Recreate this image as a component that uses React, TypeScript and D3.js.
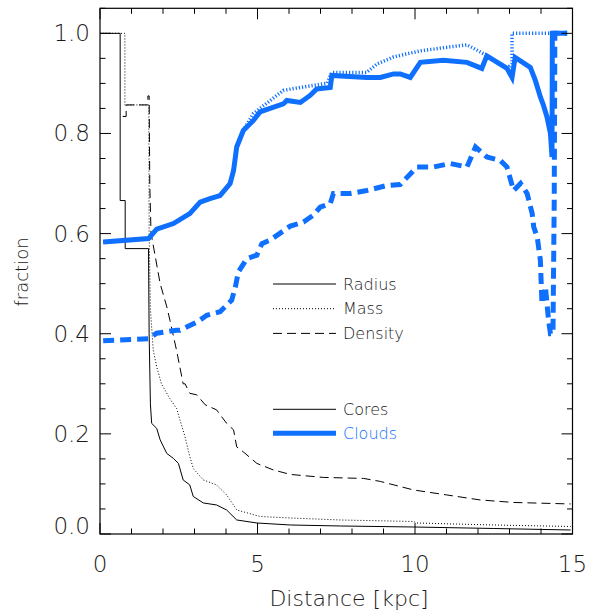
import React from "react";
import * as d3 from "d3";

// Cumulative fractions versus galactocentric distance (kpc)
const coresRadiusX = [0, 0.64, 0.64, 0.8, 0.8, 1.54, 1.56, 1.6, 1.64, 1.8, 1.91, 2.12, 2.33, 2.49, 2.64, 2.85, 2.96, 3.28, 3.7, 4.02, 4.34, 4.98, 6.04, 7.63, 9.94, 12.5, 14.94];
const coresRadiusY = [1.0, 1.0, 0.666, 0.666, 0.57, 0.57, 0.4, 0.26, 0.221, 0.211, 0.188, 0.161, 0.151, 0.141, 0.108, 0.098, 0.075, 0.062, 0.058, 0.048, 0.028, 0.022, 0.018, 0.016, 0.014, 0.011, 0.008];

const coresMassX = [0, 0.79, 0.79, 1.55, 1.56, 1.6, 1.69, 1.8, 1.95, 2.22, 2.43, 2.7, 2.85, 2.96, 3.28, 3.7, 4.02, 4.34, 5.08, 6.04, 7.63, 9.95, 10.05, 12.5, 14.94];
const coresMassY = [1.0, 1.0, 0.857, 0.857, 0.6, 0.45, 0.367, 0.334, 0.3, 0.27, 0.251, 0.194, 0.155, 0.131, 0.108, 0.098, 0.078, 0.048, 0.035, 0.032, 0.028, 0.025, 0.022, 0.018, 0.015];

const coresDensityX = [0.72, 0.83, 0.83, 1.52, 1.52, 1.56, 1.58, 1.62, 1.66, 1.91, 2.12, 2.22, 2.43, 2.64, 2.7, 2.85, 3.07, 3.34, 3.7, 4.02, 4.24, 4.34, 4.55, 4.98, 5.5, 6.04, 7.09, 8.37, 8.9, 9.95, 11.01, 12.07, 13.13, 14.94];
const coresDensityY = [0.834, 0.834, 0.857, 0.857, 0.875, 0.875, 0.7, 0.6, 0.587, 0.5, 0.454, 0.427, 0.367, 0.3, 0.3, 0.281, 0.278, 0.258, 0.248, 0.221, 0.208, 0.174, 0.164, 0.141, 0.128, 0.119, 0.113, 0.111, 0.105, 0.088, 0.078, 0.068, 0.063, 0.06];

const cloudsRadiusX = [0.1, 1.54, 1.8, 2.33, 2.85, 3.18, 3.49, 3.81, 4.13, 4.24, 4.34, 4.55, 4.87, 5.08, 5.4, 5.82, 5.93, 6.36, 6.67, 6.88, 7.31, 7.36, 8.47, 8.9, 9.32, 9.53, 9.85, 10.17, 10.9, 11.65, 12.12, 12.28, 12.92, 13.08, 13.18, 13.66, 13.82, 13.98, 14.08, 14.19, 14.3, 14.35, 14.36, 14.83];
const cloudsRadiusY = [0.583, 0.59, 0.609, 0.62, 0.64, 0.663, 0.67, 0.676, 0.7, 0.726, 0.773, 0.806, 0.826, 0.843, 0.85, 0.859, 0.866, 0.862, 0.876, 0.889, 0.892, 0.916, 0.912, 0.912, 0.919, 0.919, 0.912, 0.942, 0.946, 0.942, 0.93, 0.955, 0.93, 0.912, 0.952, 0.932, 0.906, 0.873, 0.856, 0.833, 0.8, 0.753, 1.0, 1.0];

const cloudsMassX = [0.1, 1.54, 1.8, 2.33, 2.85, 3.18, 3.49, 3.81, 4.13, 4.24, 4.34, 4.55, 4.87, 5.08, 5.82, 6.36, 7.2, 7.36, 8.47, 8.8, 9.32, 10.17, 11.12, 11.65, 12.1, 12.28, 12.92, 13.08, 13.08, 14.83];
const cloudsMassY = [0.583, 0.59, 0.609, 0.62, 0.64, 0.663, 0.67, 0.676, 0.7, 0.726, 0.773, 0.806, 0.84, 0.85, 0.886, 0.892, 0.9, 0.922, 0.922, 0.939, 0.953, 0.965, 0.973, 0.977, 0.962, 0.955, 0.93, 0.939, 1.0, 1.0];

const cloudsDensityX = [0.1, 1.54, 1.8, 2.43, 2.54, 3.1, 3.39, 3.81, 4.18, 4.3, 4.39, 4.66, 4.98, 5.14, 5.4, 5.72, 6.04, 6.46, 6.78, 6.99, 7.31, 7.41, 7.94, 8.47, 9.1, 9.53, 10.06, 10.59, 11.12, 11.65, 11.92, 12.28, 12.71, 12.92, 13.13, 13.35, 13.56, 13.72, 13.77, 13.88, 13.98, 14.03, 14.14, 14.24, 14.3, 14.38, 14.42, 14.44, 14.83];
const cloudsDensityY = [0.386, 0.39, 0.401, 0.407, 0.407, 0.424, 0.437, 0.444, 0.467, 0.494, 0.523, 0.55, 0.557, 0.58, 0.587, 0.601, 0.615, 0.623, 0.637, 0.653, 0.66, 0.68, 0.68, 0.686, 0.696, 0.698, 0.733, 0.733, 0.74, 0.733, 0.773, 0.753, 0.746, 0.733, 0.686, 0.7, 0.68, 0.64, 0.613, 0.593, 0.547, 0.46, 0.494, 0.427, 0.4, 0.4, 0.667, 1.0, 1.0];

const xMajorTicks = [0, 5, 10, 15];
const yMajorTicks = [0, 0.2, 0.4, 0.6, 0.8, 1.0];
const legendLines = ["Radius", "Mass", "Density"];
const legendSets = ["Cores", "Clouds"];

const BLUE = "#0f6fff";
const FONT = "'DejaVu Sans', sans-serif";
const TEXT = "#1a1a1a";

const W = 590;
const H = 614;
const left = 100;
const right = 572.5;
const top = 8.3;
const bottom = 534;

export default function App() {
  const x = d3.scaleLinear().domain([0, 15]).range([left, right]);
  const y = d3.scaleLinear().domain([0, 1.05]).range([bottom, top]);

  const mk = (xs: number[], ys: number[]) =>
    d3.line<number>().x((_, i) => x(xs[i])).y((_, i) => y(ys[i]))(xs.map((_, i) => i)) || "";

  const xMinor = d3.range(0, 15.001, 1);
  const yMinor = d3.range(0, 1.0501, 0.05);

  const dashed = "9 5";
  const dotted = "1 2";

  return (
    <svg width={W} height={H} style={{ position: "absolute", left: 0, top: 0, background: "#fff" }} fontFamily={FONT}>
      <defs>
        <clipPath id="plotArea">
          <rect x={left} y={top} width={right - left} height={bottom - top} />
        </clipPath>
      </defs>

      <g clipPath="url(#plotArea)" fill="none">
        {/* cores */}
        <path d={mk(coresRadiusX, coresRadiusY)} stroke="#000" strokeWidth={1} />
        <path d={mk(coresMassX, coresMassY)} stroke="#000" strokeWidth={1} strokeDasharray={dotted} />
        <path d={mk(coresDensityX, coresDensityY)} stroke="#000" strokeWidth={1} strokeDasharray={dashed} />
        {/* clouds */}
        <path d={mk(cloudsMassX, cloudsMassY)} stroke={BLUE} strokeWidth={3.5} strokeDasharray="1.2 2" />
        <path d={mk(cloudsDensityX, cloudsDensityY)} stroke={BLUE} strokeWidth={5} strokeDasharray="11 6" />
        <path d={mk(cloudsRadiusX, cloudsRadiusY)} stroke={BLUE} strokeWidth={5} />
      </g>

      {/* frame */}
      <rect x={left} y={top} width={right - left} height={bottom - top} fill="none" stroke="#000" strokeWidth={1.2} />

      {/* x ticks, bottom and top */}
      {xMinor.map((v) => {
        const major = xMajorTicks.includes(v);
        const len = major ? 11 : 5.5;
        return (
          <g key={"xt" + v} stroke="#000" strokeWidth={1}>
            <line x1={x(v)} x2={x(v)} y1={bottom} y2={bottom - len} />
            <line x1={x(v)} x2={x(v)} y1={top} y2={top + len} />
          </g>
        );
      })}
      {/* y ticks, left and right */}
      {yMinor.map((v, i) => {
        const major = i % 4 === 0;
        const len = major ? 11 : 5.5;
        return (
          <g key={"yt" + i} stroke="#000" strokeWidth={1}>
            <line x1={left} x2={left + len} y1={y(v)} y2={y(v)} />
            <line x1={right} x2={right - len} y1={y(v)} y2={y(v)} />
          </g>
        );
      })}

      {xMajorTicks.map((v) => (
        <text key={"xl" + v} x={x(v)} y={572} textAnchor="middle" fontSize={23} fontWeight={200} fill={TEXT}>
          {v}
        </text>
      ))}
      {yMajorTicks.map((v) => (
        <text key={"yl" + v} x={90} y={Math.min(y(v) + 8, bottom)} textAnchor="end" fontSize={23} fontWeight={200} fill={TEXT}>
          {v.toFixed(1)}
        </text>
      ))}

      <text x={349} y={606} textAnchor="middle" fontSize={22} fontWeight={200} fill={TEXT}>
        Distance [kpc]
      </text>
      <text transform={`translate(28,${272}) rotate(-90)`} textAnchor="middle" fontSize={18} fontWeight={200} fill={TEXT}>
        fraction
      </text>

      {/* legend: line styles */}
      {legendLines.map((name, i) => {
        const ly = 284 + i * 24.7;
        return (
          <g key={name}>
            <line x1={273} x2={336} y1={ly} y2={ly} stroke="#000" strokeWidth={1}
              strokeDasharray={i === 0 ? undefined : i === 1 ? dotted : dashed} />
            <text x={343} y={ly} dy="0.36em" fontSize={16} fontWeight={200} fill={TEXT}>{name}</text>
          </g>
        );
      })}
      {/* legend: populations */}
      {legendSets.map((name, i) => {
        const ly = 409.3 + i * 24;
        const c = i === 0 ? "#000" : BLUE;
        return (
          <g key={name}>
            <line x1={273} x2={336} y1={ly} y2={ly} stroke={c} strokeWidth={i === 0 ? 1 : 5} />
            <text x={343} y={ly} dy="0.36em" fontSize={16} fontWeight={200} fill={i === 0 ? TEXT : BLUE}>{name}</text>
          </g>
        );
      })}
    </svg>
  );
}
